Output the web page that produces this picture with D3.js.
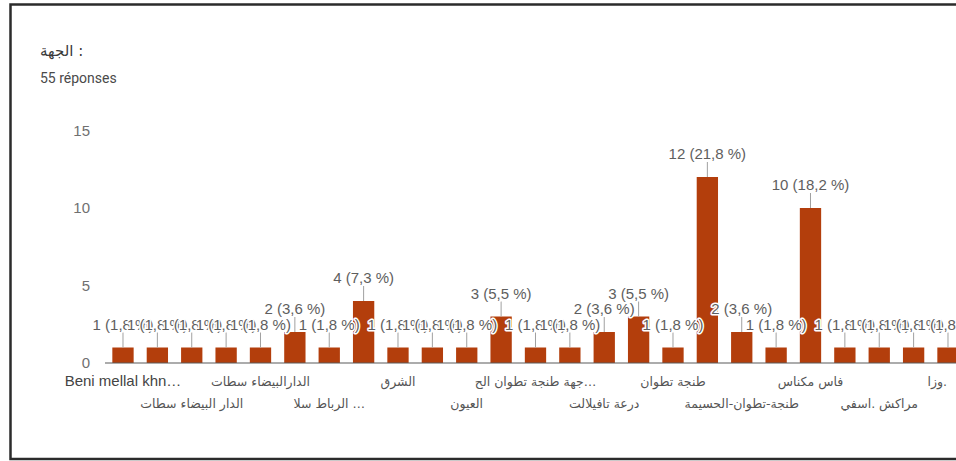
<!DOCTYPE html>
<html>
<head>
<meta charset="utf-8">
<script src="https://cdn.jsdelivr.net/npm/d3@7"></script>
<style>
  html, body { margin: 0; padding: 0; background: #fff; }
  svg { display: block; }
</style>
</head>
<body>
<svg id="chart" width="956" height="461"></svg>
<script>
// Regions named in the answers (sorted as in the summary view)
const categories = [
  "Beni mellal khn…",
  "Casablanca settat",
  "الدار البيضاء سطات",
  "الدار البيضاء-سطات",
  "الدارالبيضاء سطات",
  "الدار البيضاء",
  "الرباط سلا …",
  "الرباط سلا القنيطرة",
  "الشرق",
  "الشرق ",
  "العيون",
  "بني ملال خنيفرة",
  "جهة طنجة تطوان الح…",
  "جهة فاس مكناس",
  "درعة تافيلالت",
  "سوس ماسة",
  "طنجة تطوان",
  "طنجة تطوان الحسيمة",
  "طنجة-تطوان-الحسيمة",
  "فاس",
  "فاس مكناس",
  "فاس-مكناس",
  "مراكش .اسفي",
  "مراكش آسفي",
  "وزا."
];
const counts = [1, 1, 1, 1, 1, 2, 1, 4, 1, 1, 1, 3, 1, 1, 2, 3, 1, 12, 2, 1, 10, 1, 1, 1, 1];
const yTicks = [0, 5, 10, 15];
const title = "الجهة";

const total = d3.sum(counts);
const rows = categories.map((c, i) => ({ name: c, value: counts[i], i }));

const svg = d3.select("#chart");
const W = 956;
const plotRight = 947;

// page frame
svg.append("rect")
  .attr("x", 10.5).attr("y", 4.5)
  .attr("width", 1000).attr("height", 454.5)
  .attr("fill", "none").attr("stroke", "#2b2b2b").attr("stroke-width", 2.5);

// heading
svg.append("text")
  .attr("x", 40).attr("y", 56)
  .attr("font-family", "DejaVu Sans, Arial, sans-serif")
  .attr("font-size", 15).attr("fill", "#3a3a3a")
  .text(title + " :");

svg.append("text")
  .attr("x", 40).attr("y", 83)
  .attr("font-family", "Roboto, Arial, sans-serif")
  .attr("font-size", 14).attr("fill", "#4a4a4a")
  .text(total + " réponses");

// scales
const x = d3.scaleBand()
  .domain(rows.map(d => d.i))
  .range([105.8, 105.8 + 25 * 34.375])
  .paddingInner(0.38)
  .paddingOuter(0.19);

const y = d3.scaleLinear().domain([0, 15]).range([363, 130.5]);

// y axis labels
const yAxis = svg.append("g")
  .attr("transform", "translate(90,0)")
  .call(d3.axisLeft(y).tickValues(yTicks).tickSize(0).tickPadding(0));
yAxis.select(".domain").remove();
yAxis.selectAll("text")
  .attr("font-family", "Arial, Liberation Sans, sans-serif")
  .attr("font-size", 15).attr("fill", "#707070");

// bars
const barColor = "#b33e0c";
svg.append("g").selectAll("rect")
  .data(rows).join("rect")
  .attr("x", d => x(d.i))
  .attr("y", d => y(d.value))
  .attr("width", x.bandwidth())
  .attr("height", d => y(0) - y(d.value))
  .attr("fill", barColor);

// baseline
svg.append("line")
  .attr("x1", 105).attr("x2", W)
  .attr("y1", y(0)).attr("y2", y(0))
  .attr("stroke", "#5a5a5a").attr("stroke-width", 1.2);

// leader lines and value labels
const fmtPct = v => (Math.round(v / total * 1000) / 10).toFixed(1).replace(".", ",");
const labels = svg.append("g");
rows.forEach(d => {
  const cx = x(d.i) + x.bandwidth() / 2;
  const top = y(d.value);
  labels.append("line")
    .attr("x1", cx).attr("x2", cx)
    .attr("y1", top - 15).attr("y2", top)
    .attr("stroke", "#a0a0a0").attr("stroke-width", 1);
});
rows.forEach(d => {
  const cx = x(d.i) + x.bandwidth() / 2;
  const top = y(d.value);
  labels.append("text")
    .attr("x", cx).attr("y", top - 18)
    .attr("text-anchor", "middle")
    .attr("font-family", "Arial, Liberation Sans, sans-serif")
    .attr("font-size", 15).attr("fill", "#5e5e5e")
    .attr("stroke", "#fff").attr("stroke-width", 3)
    .attr("stroke-linejoin", "round")
    .attr("paint-order", "stroke")
    .text(`${d.value} (${fmtPct(d.value)} %)`);
});

// category labels: every other one, alternating between two rows,
// pulled back inside the plot when they would run past its right edge
const isLatin = s => /[A-Za-z]/.test(s);
svg.append("g").selectAll("text")
  .data(rows.filter(d => d.i % 2 === 0))
  .join("text")
  .attr("x", d => x(d.i) + x.bandwidth() / 2)
  .attr("y", d => (d.i % 4 === 0 ? 386 : 408))
  .attr("text-anchor", "middle")
  .attr("font-family", d => isLatin(d.name) ? "Arial, Liberation Sans, sans-serif" : "DejaVu Sans, sans-serif")
  .attr("font-size", d => isLatin(d.name) ? 15 : 12.5)
  .attr("fill", d => isLatin(d.name) ? "#444" : "#555")
  .text(d => d.name)
  .each(function (d) {
    const w = this.getComputedTextLength();
    const cx = x(d.i) + x.bandwidth() / 2;
    if (cx + w / 2 > plotRight) d3.select(this).attr("x", plotRight - w / 2);
  });
</script>
</body>
</html>
